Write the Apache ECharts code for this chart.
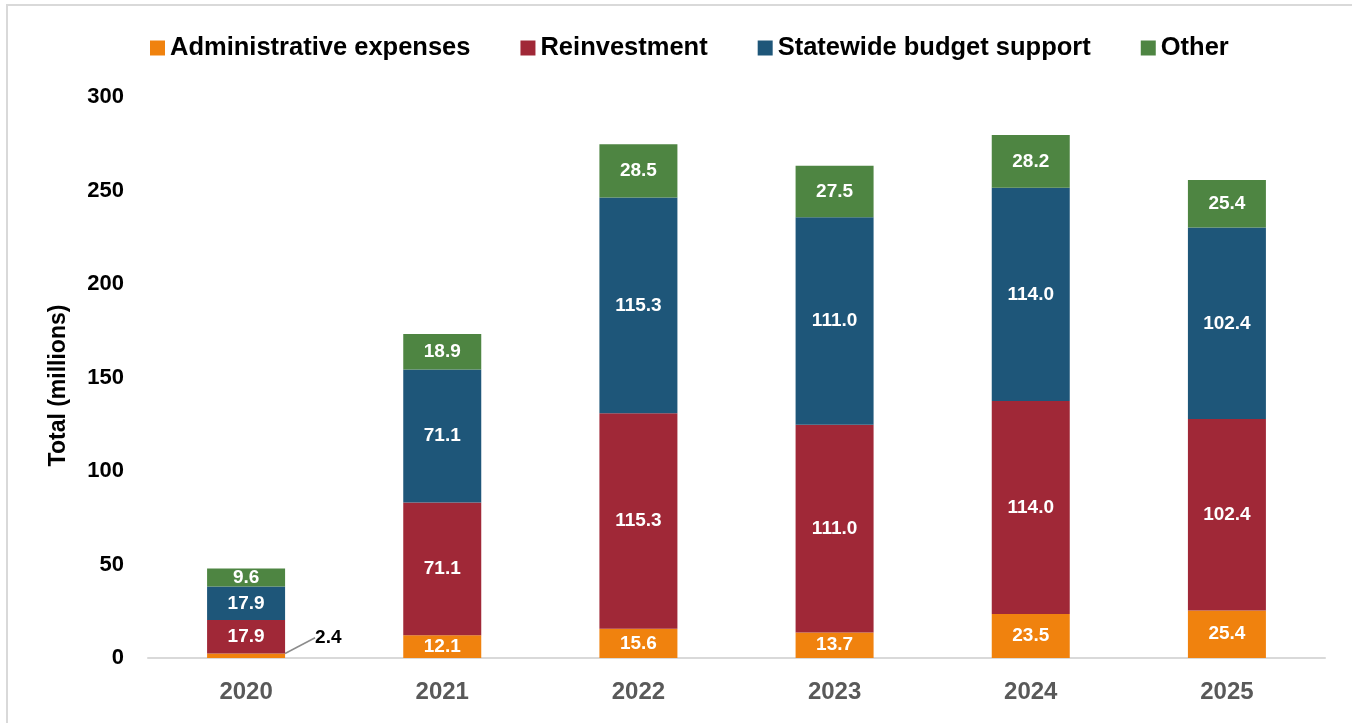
<!DOCTYPE html>
<html>
<head>
<meta charset="utf-8">
<script src="https://cdn.jsdelivr.net/npm/echarts@6/dist/echarts.min.js"></script>
<style>
  html, body { margin: 0; padding: 0; background: #fff; }
  #chart { width: 1352px; height: 723px; }
</style>
</head>
<body>
<div id="chart"></div>
<script>
// Fund distributions by fiscal year, in millions
const years = ['2020', '2021', '2022', '2023', '2024', '2025'];
const adminExpenses = [2.4, 12.1, 15.6, 13.7, 23.5, 25.4];
const reinvestment = [17.9, 71.1, 115.3, 111.0, 114.0, 102.4];
const statewideSupport = [17.9, 71.1, 115.3, 111.0, 114.0, 102.4];
const other = [9.6, 18.9, 28.5, 27.5, 28.2, 25.4];
const yTicks = [0, 50, 100, 150, 200, 250, 300];

const FONT = 'Liberation Sans, Arial, sans-serif';

function segmentLabel(extra) {
  return Object.assign({
    show: true,
    position: 'inside',
    color: '#ffffff',
    fontFamily: FONT,
    fontWeight: 'bold',
    fontSize: 19,
    formatter: p => p.value.toFixed(1)
  }, extra || {});
}

const chart = echarts.init(document.getElementById('chart'), null, { renderer: 'canvas' });

chart.setOption({
  animation: false,
  backgroundColor: '#ffffff',
  graphic: [{
    type: 'rect',
    shape: { x: 7, y: 5, width: 1400, height: 800 },
    style: { fill: 'none', stroke: '#d9d9d9', lineWidth: 2 },
    silent: true
  }],
  legend: {
    top: 30,
    left: 145,
    itemWidth: 15,
    itemHeight: 15,
    itemGap: 50,
    icon: 'rect',
    textStyle: { fontFamily: FONT, fontWeight: 'bold', fontSize: 25.5, color: '#000' },
    data: ['Administrative expenses', 'Reinvestment', 'Statewide budget support', 'Other']
  },
  grid: { left: 148, right: 27, top: 97, bottom: 65 },
  xAxis: {
    type: 'category',
    data: years,
    axisLine: { show: true, lineStyle: { color: '#d9d9d9', width: 2 } },
    axisTick: { show: false },
    axisLabel: { color: '#595959', fontFamily: FONT, fontWeight: 'bold', fontSize: 24, margin: 22 }
  },
  yAxis: {
    type: 'value',
    min: yTicks[0],
    max: yTicks[yTicks.length - 1],
    interval: 50,
    name: 'Total (millions)',
    nameLocation: 'middle',
    nameGap: 78,
    nameTextStyle: { color: '#000', fontFamily: FONT, fontWeight: 'bold', fontSize: 23, padding: [0, 16, 0, 0] },
    axisLine: { show: false },
    axisTick: { show: false },
    splitLine: { show: false },
    axisLabel: { color: '#000', fontFamily: FONT, fontWeight: 'bold', fontSize: 22, margin: 24 }
  },
  series: [
    {
      name: 'Administrative expenses',
      type: 'bar',
      stack: 'total',
      barWidth: 78,
      itemStyle: { color: '#F0820E' },
      label: segmentLabel(),
      data: adminExpenses.map((v, i) => i === 0
        ? { value: v, label: { color: '#000', position: 'right', distance: 30 } }
        : v),
      labelLayout: p => p.dataIndex === 0 ? { dy: -18 } : {},
      labelLine: { show: true, lineStyle: { color: '#8c8c8c', width: 1.5 } }
    },
    {
      name: 'Reinvestment',
      type: 'bar',
      stack: 'total',
      itemStyle: { color: '#A02837' },
      label: segmentLabel(),
      data: reinvestment
    },
    {
      name: 'Statewide budget support',
      type: 'bar',
      stack: 'total',
      itemStyle: { color: '#1E5679' },
      label: segmentLabel(),
      data: statewideSupport
    },
    {
      name: 'Other',
      type: 'bar',
      stack: 'total',
      itemStyle: { color: '#4E8542' },
      label: segmentLabel(),
      data: other
    }
  ]
});
</script>
</body>
</html>
